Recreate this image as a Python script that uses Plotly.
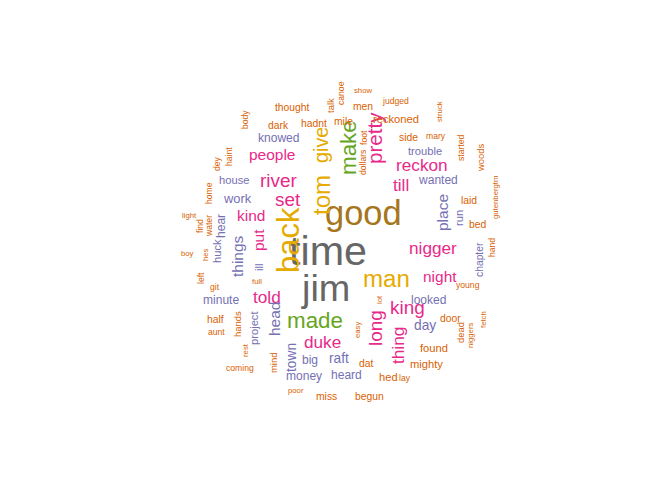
import plotly.graph_objects as go

O, P, K, G, Y, B, A = "#D95F02", "#7570B3", "#E7298A", "#66A61E", "#E6AB02", "#A6761D", "#666666"
# word, x, y, size, color, vertical
words = [
    ("time",320,243,48,A,0),("jim",317,280,44,A,0),("good",355,205,40,B,0),
    ("back",280,232,36,Y,1),("man",378,270,28,Y,0),("tom",313,187,28,Y,1),("give",313,137,23,Y,1),
    ("make",340,140,26,G,1),("made",307,312,26,G,0),("pretty",366,130,24,K,1),
    ("reckon",414,157,20,K,0),("till",393,177,20,K,0),("nigger",425,240,20,K,0),
    ("river",270,172,22,K,0),("people",264,146,18,K,0),("set",280,191,22,K,0),
    ("kind",243,207,18,K,0),("put",250,232,18,K,1),("told",259,289,20,K,0),
    ("king",399,299,22,K,0),("duke",314,334,20,K,0),("long",367,320,22,K,1),
    ("thing",390,338,20,K,1),("night",432,268,18,K,0),
    ("head",266,311,18,P,1),("things",229,248,18,P,1),("work",229,190,15,P,0),
    ("knowed",270,130,14,P,0),("house",226,172,13,P,0),("hear",213,218,14,P,1),
    ("huck",209,243,13,P,1),("minute",213,292,14,P,0),("project",246,320,13,P,1),
    ("town",283,350,16,P,1),("big",302,352,14,P,0),("raft",331,350,16,P,0),
    ("money",296,368,14,P,0),("heard",338,367,14,P,0),("day",417,317,16,P,0),
    ("looked",420,292,14,P,0),("place",434,205,18,P,1),("run",451,210,13,P,1),
    ("wanted",430,172,14,P,0),("trouble",417,143,13,P,0),("chapter",471,252,12,P,1),
    ("ill",251,260,13,P,1),
    ("thought",284,99,12,O,0),("dark",270,117,12,O,0),("hadnt",306,115,12,O,0),
    ("talk",322,98,11,O,1),("canoe",333,85,10,O,1),("show",355,82,9,O,0),
    ("men",355,98,12,O,0),("judged",387,93,10,O,0),("mile",335,113,12,O,0),
    ("reckoned",388,111,13,O,0),("foot",356,130,10,O,1),("struck",431,104,9,O,1),
    ("side",400,129,12,O,0),("mary",428,128,10,O,0),("started",453,140,10,O,1),
    ("woods",472,150,11,O,1),("dollars",355,155,10,O,1),("laid",461,192,12,O,0),
    ("bed",469,216,12,O,0),("gutenbergtm",487,190,9,O,1),("hand",484,240,10,O,1),
    ("young",460,277,10,O,0),("door",442,310,12,O,0),("dead",452,325,11,O,1),
    ("niggers",462,327,9,O,1),("fetch",475,312,9,O,1),("found",426,340,13,O,0),
    ("mighty",418,356,13,O,0),("hed",380,369,13,O,0),("lay",397,370,10,O,0),
    ("dat",358,355,12,O,0),("begun",361,388,12,O,0),("miss",318,388,12,O,0),
    ("poor",288,382,9,O,0),("mind",265,355,11,O,1),("coming",232,360,10,O,0),
    ("rest",237,342,9,O,1),("hands",229,316,11,O,1),("aunt",208,324,10,O,0),
    ("half",207,311,12,O,0),("full",249,273,9,O,0),("git",207,279,10,O,0),
    ("left",193,270,10,O,1),("boy",179,245,9,O,0),("hes",197,247,9,O,1),
    ("light",181,207,9,O,0),("find",192,218,10,O,1),("water",201,218,10,O,1),
    ("home",201,185,10,O,1),("dey",209,156,10,O,1),("haint",221,149,10,O,1),
    ("body",237,112,10,O,1),("easy",349,322,9,O,1),("lot",371,292,9,O,1),
]

fig = go.Figure()
fig.add_trace(go.Scatter(x=[0, 672], y=[0, 480], mode="markers", marker=dict(opacity=0), hoverinfo="skip"))
for w, x, y, s, c, v in words:
    fig.add_annotation(x=x, y=y, text=w, showarrow=False, textangle=-90 if v else 0,
                       font=dict(family="Liberation Sans, Arial", size=s * 0.86, color=c),
                       xanchor="center", yanchor="middle")
fig.update_xaxes(range=[0, 672], visible=False)
fig.update_yaxes(range=[480, 0], visible=False)
fig.update_layout(width=672, height=480, margin=dict(l=0, r=0, t=0, b=0),
                  plot_bgcolor="white", paper_bgcolor="white", showlegend=False)
fig.write_html("out.html")
